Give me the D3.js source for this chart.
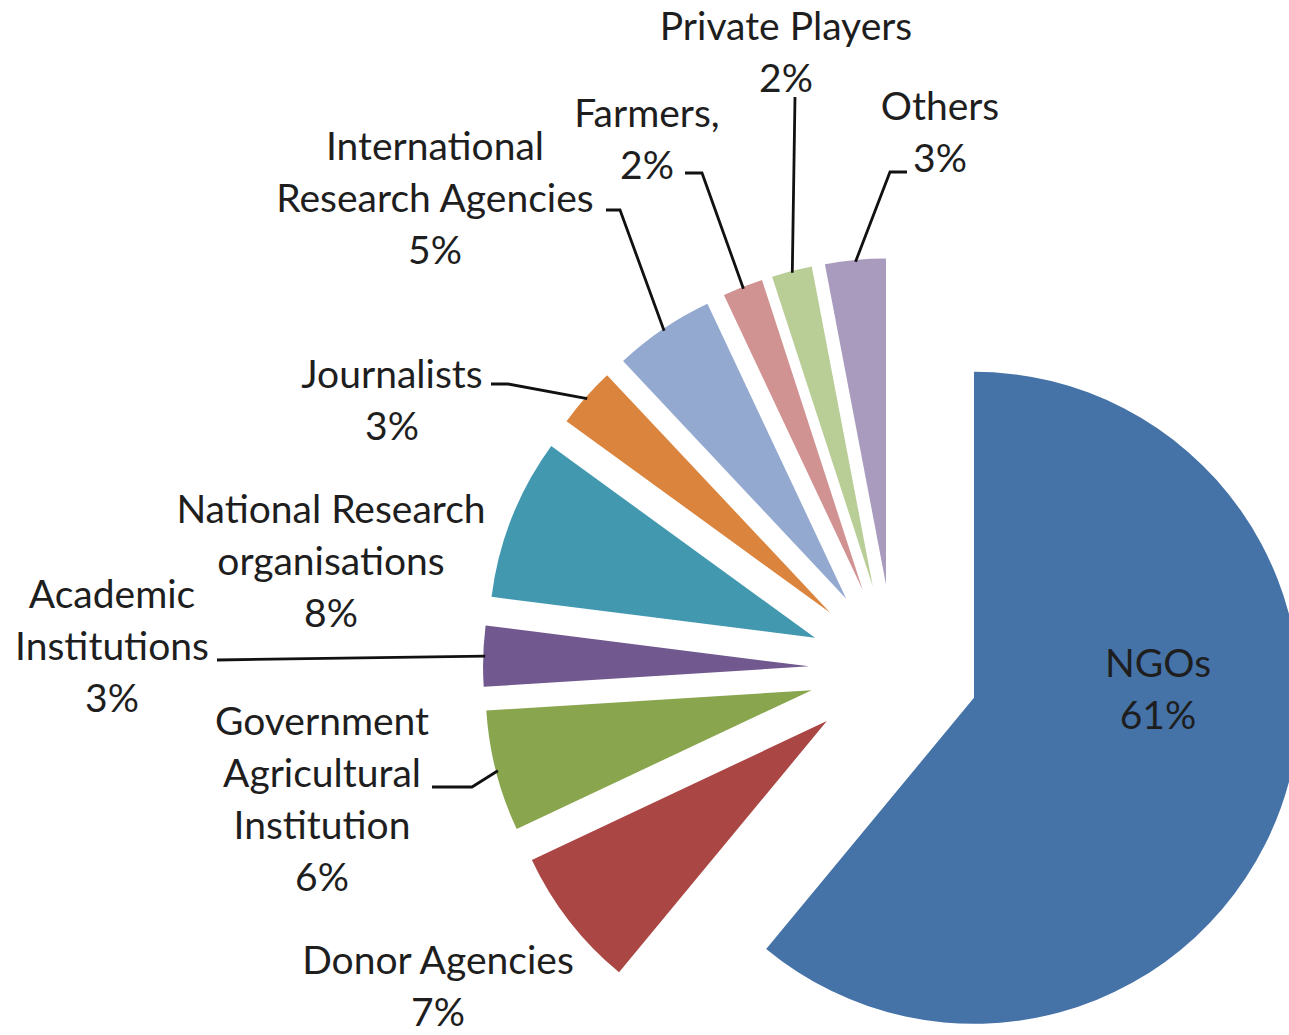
<!DOCTYPE html>
<html>
<head>
<meta charset="utf-8">
<script src="https://cdn.jsdelivr.net/npm/d3@7"></script>
<style>
  html, body { margin: 0; padding: 0; background: #ffffff; }
  svg { display: block; }
  .label text { font-family: Lato, "Open Sans", sans-serif; fill: #1e1e1e; }
</style>
</head>
<body>
<svg id="chart" width="1289" height="1035"></svg>
<script>
// Respondent groups, in clockwise order from 12 o'clock
const categories = [
  "NGOs", "Donor Agencies", "Government Agricultural Institution",
  "Academic Institutions", "National Research organisations", "Journalists",
  "International Research Agencies", "Farmers,", "Private Players", "Others"
];
// Share of respondents (%)
const values = [61, 7, 6, 3, 8, 3, 5, 2, 2, 3];
// How each category name is broken over lines in its label
const labelLines = [
  ["NGOs"], ["Donor Agencies"], ["Government", "Agricultural", "Institution"],
  ["Academic", "Institutions"], ["National Research", "organisations"], ["Journalists"],
  ["International", "Research Agencies"], ["Farmers,"], ["Private Players"], ["Others"]
];
const sliceColors = [
  "#4572A7", "#AA4643", "#89A54E", "#71588F", "#4198AF",
  "#DB843D", "#93A9CF", "#D19392", "#B9CD96", "#A99BBD"
];

// ---- layout ----
const width = 1289, height = 1035;
const cx = 894, cy = 669;          // pie centre before explosion
const radius = 326;                 // slice radius
const explode = 85;                 // distance each slice is pulled out
const fontSize = 39;
const lineHeight = 52;
// baseline of the first line of each label, centred on x
const labelPos = [
  { x: 1158, y: 677 }, { x: 438, y: 974 }, { x: 322, y: 735 },
  { x: 112, y: 608 }, { x: 331, y: 523 }, { x: 392, y: 388 },
  { x: 435, y: 160 }, { x: 647, y: 127 }, { x: 786, y: 40 }, { x: 940, y: 120 }
];
// leader-line points leading from each label toward its slice (null = no leader)
const leaderFrom = [
  null, null,
  [[432, 787], [472, 787]],
  [[217, 660]],
  null,
  [[491, 384], [508, 384]],
  [[606, 210], [620, 210]],
  [[685, 173], [702, 173]],
  [[795, 97]],
  [[907, 172], [890, 172]]
];

const svg = d3.select("#chart");
svg.append("rect").attr("width", width).attr("height", height).attr("fill", "#ffffff");

const pie = d3.pie().sort(null).value(d => d).startAngle(0).endAngle(2 * Math.PI);
const arcs = pie(values);
const arc = d3.arc().innerRadius(0).outerRadius(radius);

const mid = d => (d.startAngle + d.endAngle) / 2;

// slices, each pushed out along its bisector
svg.append("g").attr("class", "slices")
  .selectAll("path")
  .data(arcs)
  .join("path")
  .attr("d", arc)
  .attr("fill", (d, i) => sliceColors[i])
  .attr("transform", d => {
    const a = mid(d);
    return `translate(${cx + explode * Math.sin(a)},${cy - explode * Math.cos(a)})`;
  });

// leader lines ending on the outer edge of each slice at its mid angle
const line = d3.line();
svg.append("g").attr("class", "leaders")
  .selectAll("path")
  .data(arcs.filter((d, i) => leaderFrom[i]))
  .join("path")
  .attr("d", d => {
    const a = mid(d);
    const r = explode + radius - 2;
    const end = [cx + r * Math.sin(a), cy - r * Math.cos(a)];
    return line(leaderFrom[d.index].concat([end]));
  })
  .attr("fill", "none")
  .attr("stroke", "#111")
  .attr("stroke-width", 2.8)
  .attr("stroke-linejoin", "miter");

// data labels: category name lines, then the percentage
const pct = d3.format(".0%");
const labels = svg.append("g").attr("class", "label")
  .selectAll("text")
  .data(arcs)
  .join("text")
  .attr("text-anchor", "middle")
  .attr("font-size", fontSize)
  .attr("x", d => labelPos[d.index].x)
  .attr("y", d => labelPos[d.index].y);

labels.each(function (d) {
  const t = d3.select(this);
  const rows = labelLines[d.index].concat([pct(d.data / 100)]);
  rows.forEach((row, k) => {
    t.append("tspan")
      .attr("x", labelPos[d.index].x)
      .attr("dy", k === 0 ? 0 : lineHeight)
      .text(row);
  });
});
</script>
</body>
</html>
